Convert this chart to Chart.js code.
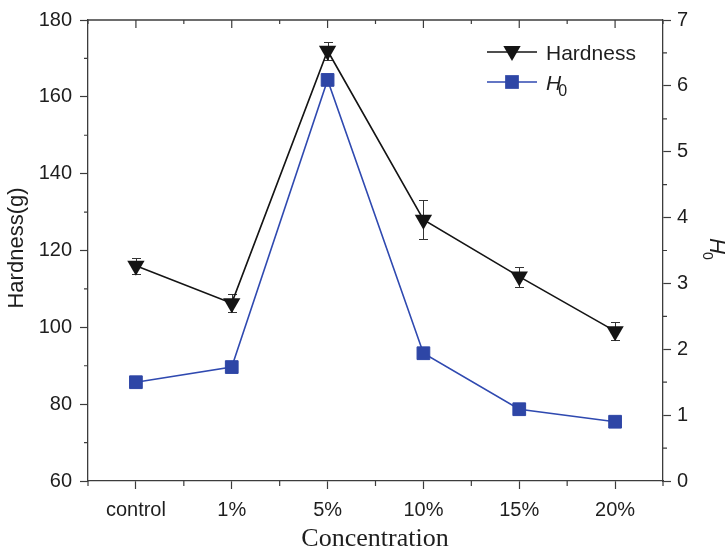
<!DOCTYPE html>
<html>
<head>
<meta charset="utf-8">
<script src="https://cdn.jsdelivr.net/npm/chart.js@4/dist/chart.umd.min.js"></script>
<style>
  html, body { margin: 0; padding: 0; background: #fff; }
  #wrap { width: 726px; height: 552px; }
</style>
</head>
<body>
<div id="wrap"><canvas id="c" width="726" height="552"></canvas></div>
<script>
// Categories and measured series
const concentrations = ['control', '1%', '5%', '10%', '15%', '20%'];
const hardness = [116.0, 106.3, 172.0, 128.0, 113.2, 99.0];
const hardnessErr = [2.0, 2.4, 2.3, 5.1, 2.6, 2.3];
const h0 = [1.50, 1.73, 6.09, 1.94, 1.09, 0.90];

// Axis tick values
const hardnessTicks = [60, 80, 100, 120, 140, 160, 180];
const h0Ticks = [0, 1, 2, 3, 4, 5, 6, 7];

const SANS = "'Liberation Sans', Arial, Helvetica, sans-serif";
const SERIF = "'Liberation Serif', 'Times New Roman', serif";
const AXIS = '#3c3c3c';
const TEXT = '#1e1e1e';
const BLACK = '#141414';
const BLUE = '#2e46a6';
const BLUE_LINE = '#2f49b0';
const TRI_R = 10;
const SQ_R = 9;

function drawTriangleDown(ctx, x, y, r) {
  const s = Math.sin(Math.PI / 3) * r;
  ctx.beginPath();
  ctx.moveTo(x, y + r);
  ctx.lineTo(x - s, y - r / 2);
  ctx.lineTo(x + s, y - r / 2);
  ctx.closePath();
  ctx.fill();
}

const decorations = {
  id: 'decorations',
  beforeDatasetsDraw(chart) {
    // error bars on the hardness series, under the markers
    const { ctx, scales: { x, y } } = chart;
    ctx.save();
    ctx.strokeStyle = '#333';
    ctx.lineWidth = 1;
    hardness.forEach((v, i) => {
      const px = Math.round(x.getPixelForValue(i)) + 0.5;
      const top = Math.round(y.getPixelForValue(v + hardnessErr[i])) + 0.5;
      const bot = Math.round(y.getPixelForValue(v - hardnessErr[i])) + 0.5;
      ctx.beginPath();
      ctx.moveTo(px, top); ctx.lineTo(px, bot);
      ctx.moveTo(px - 4.5, top); ctx.lineTo(px + 4.5, top);
      ctx.moveTo(px - 4.5, bot); ctx.lineTo(px + 4.5, bot);
      ctx.stroke();
    });
    ctx.restore();
  },
  afterDraw(chart) {
    const { ctx, chartArea: a, scales: { x, y, y1 } } = chart;
    ctx.save();
    ctx.strokeStyle = AXIS;
    ctx.lineWidth = 1.3;

    // top frame line
    ctx.beginPath();
    ctx.moveTo(a.left, a.top);
    ctx.lineTo(a.right, a.top);
    ctx.stroke();

    ctx.lineWidth = 1.2;
    ctx.beginPath();
    // top axis: inward major ticks at categories, minor ticks at boundaries
    concentrations.forEach((c, i) => {
      const px = x.getPixelForValue(i);
      ctx.moveTo(px, a.top); ctx.lineTo(px, a.top + 8);
    });
    for (let i = 0; i <= concentrations.length; i++) {
      const px = x.getPixelForValue(i - 0.5);
      ctx.moveTo(px, a.top); ctx.lineTo(px, a.top + 4);
      ctx.moveTo(px, a.bottom); ctx.lineTo(px, a.bottom + 5);
    }
    // left minor ticks
    for (let k = 0; k < hardnessTicks.length - 1; k++) {
      const py = y.getPixelForValue((hardnessTicks[k] + hardnessTicks[k + 1]) / 2);
      ctx.moveTo(a.left - 4, py); ctx.lineTo(a.left, py);
    }
    // right minor ticks
    for (let k = 0; k < h0Ticks.length - 1; k++) {
      const py = y1.getPixelForValue((h0Ticks[k] + h0Ticks[k + 1]) / 2);
      ctx.moveTo(a.right, py); ctx.lineTo(a.right + 4, py);
    }
    ctx.stroke();

    // axis titles
    ctx.fillStyle = TEXT;
    ctx.save();
    ctx.translate(23, 248);
    ctx.rotate(-Math.PI / 2);
    ctx.font = '22px ' + SANS;
    ctx.textAlign = 'center';
    ctx.textBaseline = 'alphabetic';
    ctx.fillText('Hardness(g)', 0, 0);
    ctx.restore();

    ctx.font = '26px ' + SERIF;
    ctx.textAlign = 'center';
    ctx.textBaseline = 'alphabetic';
    ctx.fillText('Concentration', (a.left + a.right) / 2 - 0.5, 546);

    ctx.save();
    ctx.translate(710, 238);
    ctx.rotate(Math.PI / 2);
    ctx.textAlign = 'left';
    ctx.textBaseline = 'alphabetic';
    ctx.font = 'italic 22px ' + SANS;
    ctx.fillText('H', 0, 0);
    const wH = ctx.measureText('H').width;
    ctx.font = '14px ' + SANS;
    ctx.fillText('0', wH - 2, 7);
    ctx.restore();

    // legend
    ctx.lineWidth = 1.6;
    ctx.strokeStyle = BLACK;
    ctx.beginPath();
    ctx.moveTo(487, 52); ctx.lineTo(537, 52);
    ctx.stroke();
    ctx.fillStyle = BLACK;
    drawTriangleDown(ctx, 512, 51, TRI_R);

    ctx.strokeStyle = BLUE_LINE;
    ctx.beginPath();
    ctx.moveTo(487, 82); ctx.lineTo(537, 82);
    ctx.stroke();
    ctx.fillStyle = BLUE;
    const side = Math.SQRT2 * SQ_R + 1;
    ctx.fillRect(512 - side / 2, 82 - side / 2, side, side);

    ctx.fillStyle = TEXT;
    ctx.textAlign = 'left';
    ctx.textBaseline = 'alphabetic';
    ctx.font = '21px ' + SANS;
    ctx.fillText('Hardness', 546, 60);
    ctx.font = 'italic 21px ' + SANS;
    ctx.fillText('H', 546, 90);
    const wL = ctx.measureText('H').width;
    ctx.font = '16px ' + SANS;
    ctx.fillText('0', 546 + wL - 3, 96);
    ctx.restore();
  }
};

const axisGrid = {
  display: true,
  drawOnChartArea: false,
  drawTicks: true,
  tickLength: 8,
  tickWidth: 1.2,
  tickColor: AXIS
};
const axisBorder = { display: true, color: AXIS, width: 1.3 };
const tickFont = { family: SANS, size: 20 };

new Chart(document.getElementById('c'), {
  type: 'line',
  data: {
    labels: concentrations,
    datasets: [
      {
        label: 'Hardness',
        data: hardness,
        yAxisID: 'y',
        borderColor: BLACK,
        borderWidth: 1.6,
        backgroundColor: BLACK,
        pointStyle: 'triangle',
        pointRotation: 180,
        pointRadius: TRI_R,
        pointHoverRadius: TRI_R,
        pointBorderWidth: 0,
        pointBackgroundColor: BLACK,
        tension: 0,
        order: 1
      },
      {
        label: 'H0',
        data: h0,
        yAxisID: 'y1',
        borderColor: BLUE_LINE,
        borderWidth: 1.6,
        backgroundColor: BLUE,
        pointStyle: 'rect',
        pointRadius: SQ_R,
        pointHoverRadius: SQ_R,
        pointBorderWidth: 1,
        pointBorderColor: BLUE,
        pointBackgroundColor: BLUE,
        tension: 0,
        order: 2
      }
    ]
  },
  options: {
    responsive: false,
    animation: false,
    layout: { padding: { top: 18, left: 0, right: 0, bottom: 0 } },
    plugins: {
      legend: { display: false },
      tooltip: { enabled: false },
      title: { display: false }
    },
    scales: {
      x: {
        type: 'category',
        offset: true,
        grid: { ...axisGrid, offset: false },
        border: axisBorder,
        ticks: { font: tickFont, color: TEXT, padding: 9, maxRotation: 0, autoSkip: false },
        afterFit(s) { s.height = 71; }
      },
      y: {
        type: 'linear',
        position: 'left',
        min: hardnessTicks[0],
        max: hardnessTicks[hardnessTicks.length - 1],
        afterBuildTicks(s) { s.ticks = hardnessTicks.map(v => ({ value: v })); },
        grid: axisGrid,
        border: axisBorder,
        ticks: { font: tickFont, color: TEXT, padding: 8 },
        afterFit(s) { s.width = 88; }
      },
      y1: {
        type: 'linear',
        position: 'right',
        min: h0Ticks[0],
        max: h0Ticks[h0Ticks.length - 1],
        afterBuildTicks(s) { s.ticks = h0Ticks.map(v => ({ value: v })); },
        grid: axisGrid,
        border: axisBorder,
        ticks: { font: tickFont, color: TEXT, padding: 6 },
        afterFit(s) { s.width = 63; }
      }
    }
  },
  plugins: [decorations]
});
</script>
</body>
</html>
